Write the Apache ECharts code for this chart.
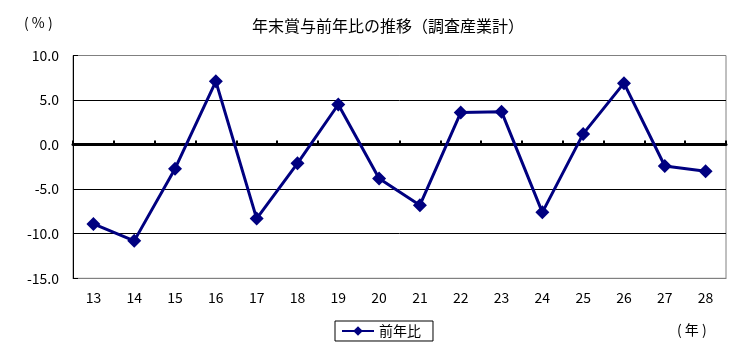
<!DOCTYPE html>
<html>
<head>
<meta charset="utf-8">
<script src="https://cdn.jsdelivr.net/npm/echarts@6/dist/echarts.min.js"></script>
<style>
  html, body { margin: 0; padding: 0; background: #fff; }
  #main { width: 744px; height: 352px; }
</style>
</head>
<body>
<div id="main"></div>
<script>
// 年次（平成）
var years = ["13", "14", "15", "16", "17", "18", "19", "20", "21", "22", "23", "24", "25", "26", "27", "28"];
// 前年比（%）
var ratio = [-8.9, -10.8, -2.7, 7.1, -8.3, -2.1, 4.5, -3.8, -6.8, 3.6, 3.7, -7.6, 1.2, 6.9, -2.4, -3.0];
var seriesName = "前年比";

var font = "'Noto Sans CJK JP', sans-serif";
var navy = "#000080";

var myChart = echarts.init(document.getElementById("main"));

var option = {
  animation: false,
  textStyle: { fontFamily: font },
  title: {
    text: "年末賞与前年比の推移（調査産業計）",
    left: 383,
    top: 13,
    textAlign: "center",
    textStyle: { fontSize: 16, fontWeight: "normal", color: "#000", fontFamily: font }
  },
  graphic: [
    { type: "text", left: 24, top: 16, style: { text: "( % )", fontSize: 14, fill: "#000", fontFamily: font } },
    { type: "text", left: 677, top: 323, style: { text: "( 年 )", fontSize: 14, fill: "#000", fontFamily: font } }
  ],
  legend: {
    data: [seriesName],
    left: 335,
    top: 321,
    padding: [3, 12, 3, 6],
    borderColor: "#000",
    borderWidth: 1,
    borderRadius: 0,
    itemWidth: 32,
    itemHeight: 12,
    itemGap: 2,
    textStyle: { fontSize: 14, color: "#000", fontFamily: font }
  },
  grid: {
    left: 73,
    right: 18,
    top: 55.5,
    bottom: 73.7,
    show: true,
    borderColor: "#808080",
    borderWidth: 1,
    containLabel: false
  },
  xAxis: [
    {
      type: "category",
      data: years,
      position: "bottom",
      axisLine: { onZero: false, lineStyle: { color: "#808080", width: 1 } },
      axisTick: { show: false },
      axisLabel: { color: "#000", fontSize: 14, margin: 12, fontFamily: font },
      splitLine: { show: false }
    },
    {
      type: "category",
      data: years,
      position: "top",
      axisLine: { onZero: true, lineStyle: { color: "#000", width: 3 } },
      axisTick: { show: true, inside: false, length: 4, lineStyle: { color: "#000", width: 2 } },
      axisLabel: { show: false },
      splitLine: { show: false }
    }
  ],
  yAxis: {
    type: "value",
    min: -15,
    max: 10,
    interval: 5,
    axisLine: { show: true, onZero: false, lineStyle: { color: "#000", width: 1 } },
    axisTick: { show: true, inside: true, length: 5, lineStyle: { color: "#000" } },
    axisLabel: {
      color: "#000",
      fontSize: 14,
      margin: 14,
      fontFamily: font,
      formatter: function (v) { return v.toFixed(1); }
    },
    splitLine: {
      show: true,
      lineStyle: { color: ["#808080", "#000", "#000", "#000", "#000", "#808080"], width: 1 }
    }
  },
  series: [
    {
      name: seriesName,
      type: "line",
      data: ratio,
      xAxisIndex: 0,
      symbol: "diamond",
      symbolSize: 14,
      lineStyle: { color: navy, width: 3 },
      itemStyle: { color: navy }
    }
  ]
};

myChart.setOption(option);
</script>
</body>
</html>
